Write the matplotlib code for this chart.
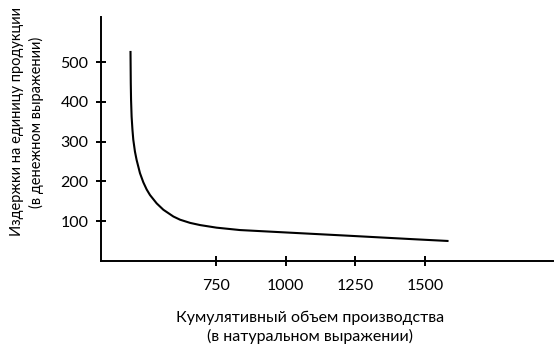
import matplotlib
matplotlib.use("Agg")
import matplotlib.pyplot as plt

plt.rcParams['font.family'] = ['Lato', 'DejaVu Sans']

volume = [443, 444, 445, 447, 450, 453, 459, 465, 477, 489, 501, 513, 537,
          561, 597, 621, 657, 693, 752, 836, 1016, 1219, 1459, 1585]
cost = [528, 447, 405, 363, 330, 305, 275, 254, 221, 198, 180, 166, 145,
        129, 112, 104, 96, 90.5, 84, 78, 71.4, 64, 55, 50.5]
x_ticks = [750, 1000, 1250, 1500]
y_ticks = [100, 200, 300, 400, 500]
x_label = "Кумулятивный объем производства\n(в натуральном выражении)"
y_label = "Издержки на единицу продукции\n(в денежном выражении)"

fig = plt.figure(figsize=(5.57, 3.53), dpi=100)
ax = fig.add_axes([100.7/557, 1 - 261.1/353, (552.7-100.7)/557, (261.1-16.7)/353])

ax.plot(volume, cost, color='black', lw=1.5, solid_capstyle='butt',
        solid_joinstyle='round')
ax.set_xlim(336, 1959)
ax.set_ylim(0, 614)
ax.set_xticks(x_ticks)
ax.set_yticks(y_ticks)
for s in ['top', 'right']:
    ax.spines[s].set_visible(False)
for s in ['left', 'bottom']:
    ax.spines[s].set_linewidth(1.4)
ax.tick_params(direction='inout', length=7.5, width=1.4, labelsize=11.5,
               colors='black')
ax.tick_params(axis='x', pad=9)
ax.tick_params(axis='y', pad=5)

fig.text(310/557, 1 - 327/353, x_label, ha='center', va='center',
         fontsize=11.5, linespacing=1.35)
fig.text(27/557, 1 - 122/353, y_label, ha='center', va='center',
         rotation=90, fontsize=10.5, linespacing=1.45)

fig.savefig('out.png', dpi=100)
